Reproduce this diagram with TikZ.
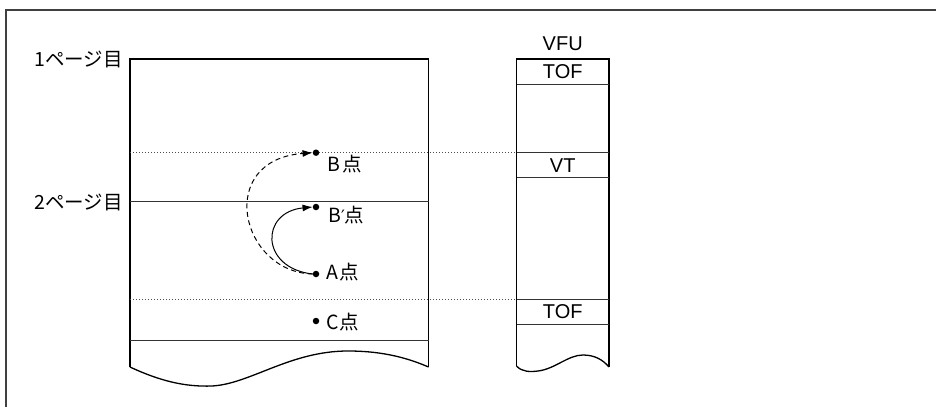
\documentclass[tikz,border=0pt]{standalone}
\usepackage{fontspec}
\setmainfont{Liberation Sans}
\newfontfamily\cjk{Noto Sans CJK JP}
\newfontfamily\dejavu{DejaVu Sans}
\usetikzlibrary{arrows.meta}
\begin{document}
\begin{tikzpicture}[x=1pt,y=-1pt,
  frameline/.style={line width=1.5pt,black!75},
  boxline/.style={line width=1.3pt,black},
  rowline/.style={line width=0.9pt,black!80},
  guide/.style={line width=0.8pt,black!70,dash pattern=on 1pt off 2pt},
  dotnode/.style={circle,fill=black,inner sep=0pt,minimum size=6.5pt},
  jlbl/.style={font=\cjk\fontsize{19.5}{19.5}\selectfont,inner sep=0pt},
  llbl/.style={font=\fontsize{20}{20}\selectfont,inner sep=0pt},
  tipline/.style={line width=1pt,-{Latex[length=10pt,width=7pt]}},
  dashline/.style={dash pattern=on 5pt off 3.5pt},
]
\useasboundingbox (0,0) rectangle (936,407);
% outer frame (open to the right and bottom)
\draw[frameline] (6,407) -- (6,10) -- (936,10);

% page box
\coordinate (pTL) at (130,59);
\coordinate (pTR) at (428.5,59);
\coordinate (pBL) at (130,367);
\coordinate (pBR) at (428.5,367);
\draw[boxline] (pBL) -- (pTL) -- (pTR) -- (pBR);
\draw[boxline] (pBL) .. controls (160,381) and (185,387) .. (212,386)
  .. controls (250,384) and (290,351) .. (348,351)
  .. controls (385,351) and (410,359) .. (pBR);
\draw[rowline] (130,201) -- (428.5,201);
\draw[rowline] (130,340) -- (428.5,340);

% VFU column
\coordinate (vTL) at (516.5,59);
\coordinate (vTR) at (609,59);
\coordinate (vBL) at (516.5,366);
\coordinate (vBR) at (609,367);
\draw[boxline] (vBL) -- (vTL) -- (vTR) -- (vBR);
\draw[boxline] (vBL) .. controls (522,372) and (530,372) .. (538,371)
  .. controls (555,369) and (568,355) .. (583,355)
  .. controls (595,355) and (603,360) .. (vBR);
\draw[rowline] (516.5,84) -- (609,84);
\draw[rowline] (516.5,152.7) -- (609,152.7);
\draw[rowline] (516.5,177) -- (609,177);
\draw[rowline] (516.5,299.3) -- (609,299.3);
\draw[rowline] (516.5,324) -- (609,324);

% dotted guides
\draw[guide] (130,152.7) -- (516.5,152.7);
\draw[guide] (130,299.3) -- (516.5,299.3);

% labels
\node[jlbl,anchor=east] (p1) at (123,59) {1ページ目};
\node[jlbl,anchor=east] (p2) at (123,202) {2ページ目};
\node[llbl] (vfu) at (562.7,43.5) {VFU};
\node[llbl] (tof1) at (562.7,72) {TOF};
\node[llbl] (vt) at (562.7,165.5) {VT};
\node[llbl] (tof2) at (562.7,312) {TOF};

% points
\node[dotnode] (B) at (316,152.7) {};
\node[dotnode] (Bp) at (316,207) {};
\node[dotnode] (A) at (316,274) {};
\node[dotnode] (C) at (316,321) {};
\node[jlbl,anchor=west] (Bl) at (327,164.5) {B\kern2pt 点};
\node[jlbl,anchor=west] (Bpl) at (328,215) {B{\dejavu\fontsize{17}{17}\selectfont ′}点};
\node[jlbl,anchor=west] (Al) at (326,272) {A\kern1pt 点};
\node[jlbl,anchor=west] (Cl) at (326,322) {C\kern1pt 点};

% arrows
\draw[tipline] (A.west) .. controls (260,268) and (260,212) .. (Bp.west);
\draw[tipline,dashline] (A.west) .. controls (240,272) and (215,160) .. (B.west);
\end{tikzpicture}
\end{document}
